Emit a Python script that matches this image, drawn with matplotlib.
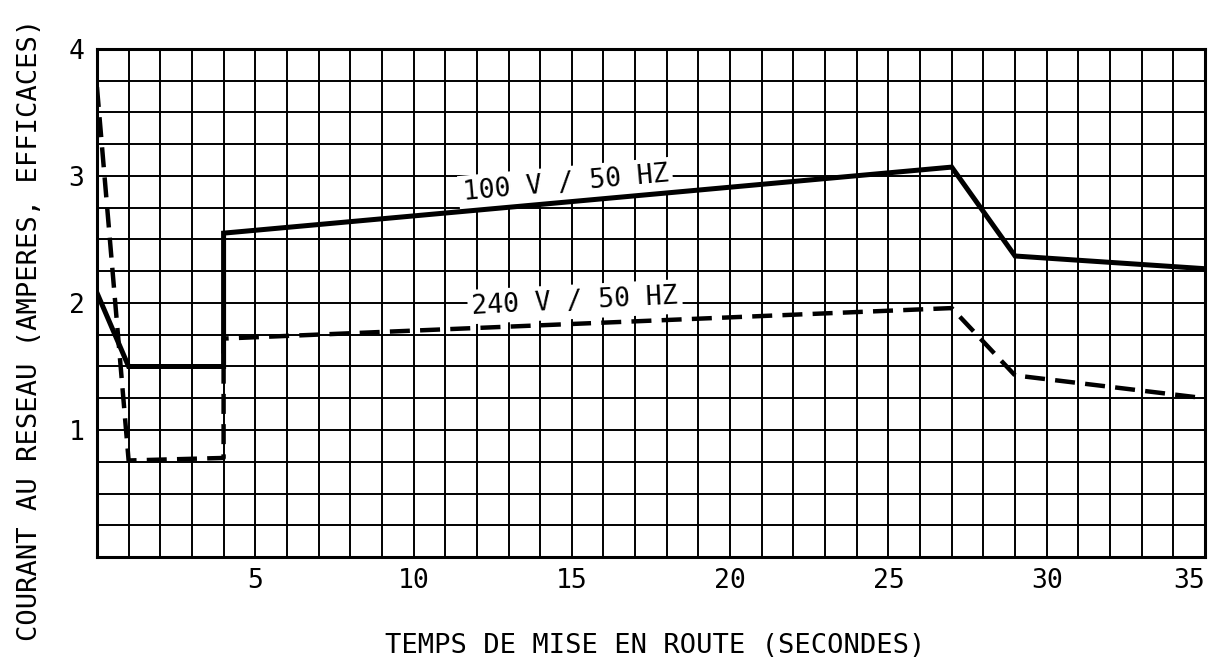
import numpy as np
import matplotlib
matplotlib.use('Agg')
import matplotlib.pyplot as plt

# courbes de courant au demarrage
t_100 = [0, 1, 4, 4, 27, 29, 35]
i_100 = [2.08, 1.5, 1.5, 2.55, 3.07, 2.37, 2.27]

t_240 = [0, 1, 4, 4, 27, 29, 35]
i_240 = [3.7, 0.76, 0.78, 1.72, 1.96, 1.43, 1.25]

x_ticks = [5, 10, 15, 20, 25, 30, 35]
y_ticks = [1, 2, 3, 4]

label_100 = "100 V / 50 HZ"
label_240 = "240 V / 50 HZ"

plt.rcParams['font.family'] = ['DejaVu Sans Mono']

fig = plt.figure(figsize=(12.12, 6.62), dpi=100)
ax = fig.add_axes([0.080, 0.1586, 0.9142, 0.7674])

ax.plot(t_100, i_100, color='black', lw=3.6, solid_joinstyle='miter', zorder=3)
ax.plot(t_240, i_240, color='black', lw=3.2, linestyle=(0, (4.5, 2.3)),
        dash_capstyle='butt', zorder=3)

ax.set_xlim(0, 35)
ax.set_ylim(0, 4)

# quadrillage : 1 s en abscisse, 0.25 A en ordonnee
ax.set_xticks(x_ticks)
ax.set_yticks(y_ticks)
ax.set_xticks(np.arange(0, 36, 1), minor=True)
ax.set_yticks(np.arange(0, 4.01, 0.25), minor=True)
ax.set_axisbelow(True)
ax.grid(which='both', color='black', lw=1.4)

ax.tick_params(which='both', length=0)
ax.tick_params(axis='x', pad=8, labelsize=19)
ax.tick_params(axis='y', pad=9, labelsize=19)
xlabels = ax.get_xticklabels()
xlabels[-1].set_horizontalalignment('right')

for s in ax.spines.values():
    s.set_linewidth(2.2)

# etiquettes des courbes
ax.text(14.8, 2.94, label_100, fontsize=19, rotation=5.2, ha='center', va='center',
        rotation_mode='anchor', zorder=2,
        bbox=dict(facecolor='white', edgecolor='none', pad=3))
ax.text(15.1, 2.01, label_240, fontsize=19, rotation=2.9, ha='center', va='center',
        rotation_mode='anchor', zorder=2,
        bbox=dict(facecolor='white', edgecolor='none', pad=3))

ax.set_xlabel("TEMPS DE MISE EN ROUTE (SECONDES)", fontsize=19.5)
ax.set_ylabel("COURANT AU RESEAU (AMPERES, EFFICACES)", fontsize=19.5)
ax.xaxis.set_label_coords(0.5036, -0.1496)
ax.yaxis.set_label_coords(-0.0487, 0.447)

fig.savefig('out.png', dpi=100)
